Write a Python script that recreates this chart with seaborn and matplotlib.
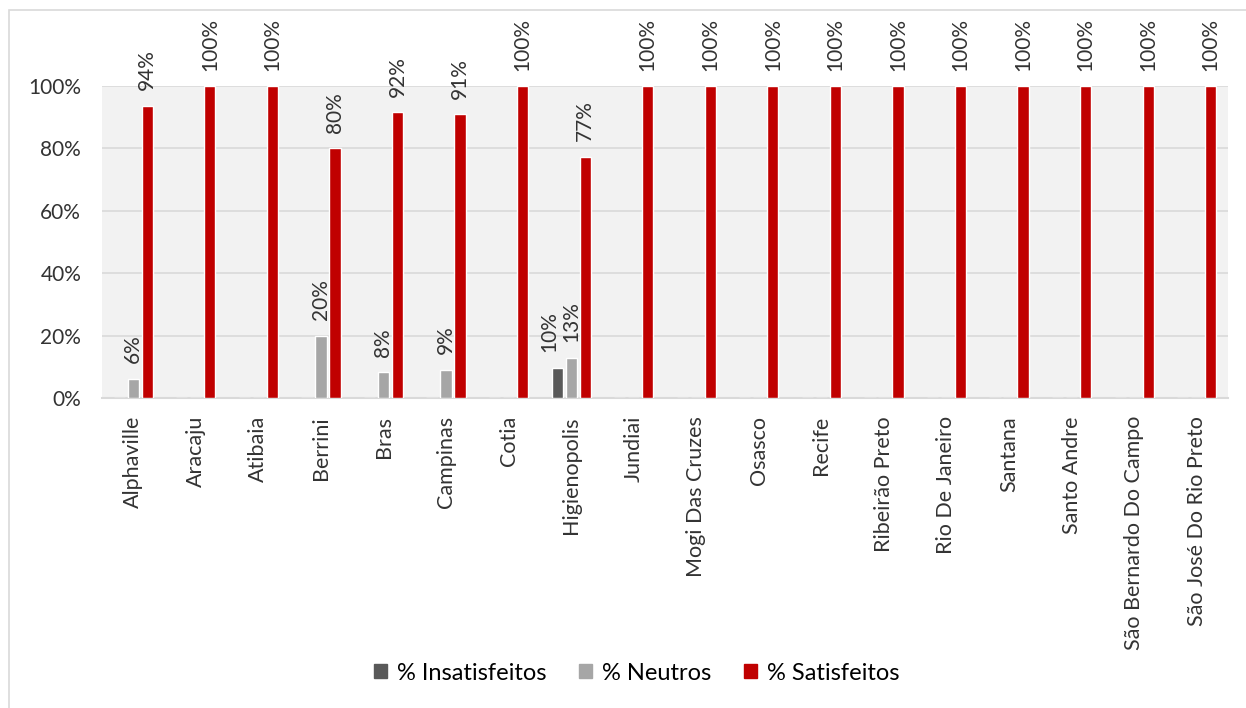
import matplotlib
matplotlib.use("Agg")
import matplotlib.pyplot as plt
from matplotlib.patches import Rectangle
import pandas as pd
import seaborn as sns

unidades = ["Alphaville", "Aracaju", "Atibaia", "Berrini", "Bras", "Campinas",
            "Cotia", "Higienopolis", "Jundiai", "Mogi Das Cruzes", "Osasco",
            "Recife", "Ribeirão Preto", "Rio De Janeiro", "Santana",
            "Santo Andre", "São Bernardo Do Campo", "São José Do Rio Preto"]
insatisfeitos = [0, 0, 0, 0, 0, 0, 0, 0.097, 0, 0, 0, 0, 0, 0, 0, 0, 0, 0]
neutros = [0.0625, 0, 0, 0.20, 0.083, 0.091, 0, 0.129, 0, 0, 0, 0, 0, 0, 0, 0, 0, 0]
satisfeitos = [0.9375, 1, 1, 0.80, 0.917, 0.909, 1, 0.774, 1, 1, 1, 1, 1, 1, 1, 1, 1, 1]
series = ["% Insatisfeitos", "% Neutros", "% Satisfeitos"]
cores = ["#595959", "#A6A6A6", "#C00000"]
yticks = [0, 0.2, 0.4, 0.6, 0.8, 1.0]

rows = []
for nome, vals in zip(series, [insatisfeitos, neutros, satisfeitos]):
    for u, v in zip(unidades, vals):
        rows.append({"Unidade": u, "Indicador": nome, "Valor": v})
df = pd.DataFrame(rows)

sns.set_style("white")
plt.rcParams["font.family"] = ["Lato", "DejaVu Sans"]
texto = "#333333"

fig = plt.figure(figsize=(12.46, 7.08), dpi=100)
ax = fig.add_axes([102 / 1246, 1 - 398 / 708, 1126 / 1246, 312 / 708])
ax.set_facecolor("#F2F2F2")

# outer chart frame
fig.patches.append(Rectangle((9 / 1246, -0.05), 1.2, 1 - 10 / 708 + 0.05,
                             transform=fig.transFigure, fill=False,
                             edgecolor="#D9D9D9", linewidth=1.2))

sns.barplot(data=df, x="Unidade", y="Valor", hue="Indicador",
            hue_order=series, palette=cores, width=0.67, gap=0.2,
            saturation=1, ax=ax, legend=False, zorder=3)

ax.set_ylim(0, 1)
ax.set_xlim(-0.5, len(unidades) - 0.5)
ax.set_yticks(yticks)
ax.set_yticklabels([f"{int(round(t * 100))}%" for t in yticks],
                   fontsize=15, color=texto)
ax.yaxis.grid(True, color="#D9D9D9", linewidth=1.2, zorder=0)
ax.set_axisbelow(True)
ax.tick_params(axis="y", length=0, pad=15)
ax.tick_params(axis="x", length=0, pad=13)
ax.set_xticks(range(len(unidades)))
ax.set_xticklabels(unidades, rotation=90, fontsize=15.5, color=texto)
ax.set_xlabel("")
ax.set_ylabel("")
for s in ["left", "right", "top"]:
    ax.spines[s].set_visible(False)
ax.spines["bottom"].set_color("#D9D9D9")
ax.spines["bottom"].set_linewidth(1.5)

for i, cont in enumerate(ax.containers):
    labels = [f"{round(b.get_height() * 100):.0f}%" if b.get_height() > 0 else ""
              for b in cont]
    txts = ax.bar_label(cont, labels=labels, rotation=90, padding=11,
                        fontsize=15, color=texto)
    for t in txts:
        t.set_clip_on(False)
        if i == 0:
            t.xyann = (-6, 11)

handles = [Rectangle((0, 0), 1, 1, color=c) for c in cores]
fig.legend(handles, series, loc="center", bbox_to_anchor=(0.511, 1 - 673 / 708),
           ncol=3, frameon=False, fontsize=17, handlelength=0.55,
           handleheight=0.55, handletextpad=0.42, columnspacing=1.4,
           labelcolor="black")

fig.savefig("out.png", dpi=100, facecolor="white")
